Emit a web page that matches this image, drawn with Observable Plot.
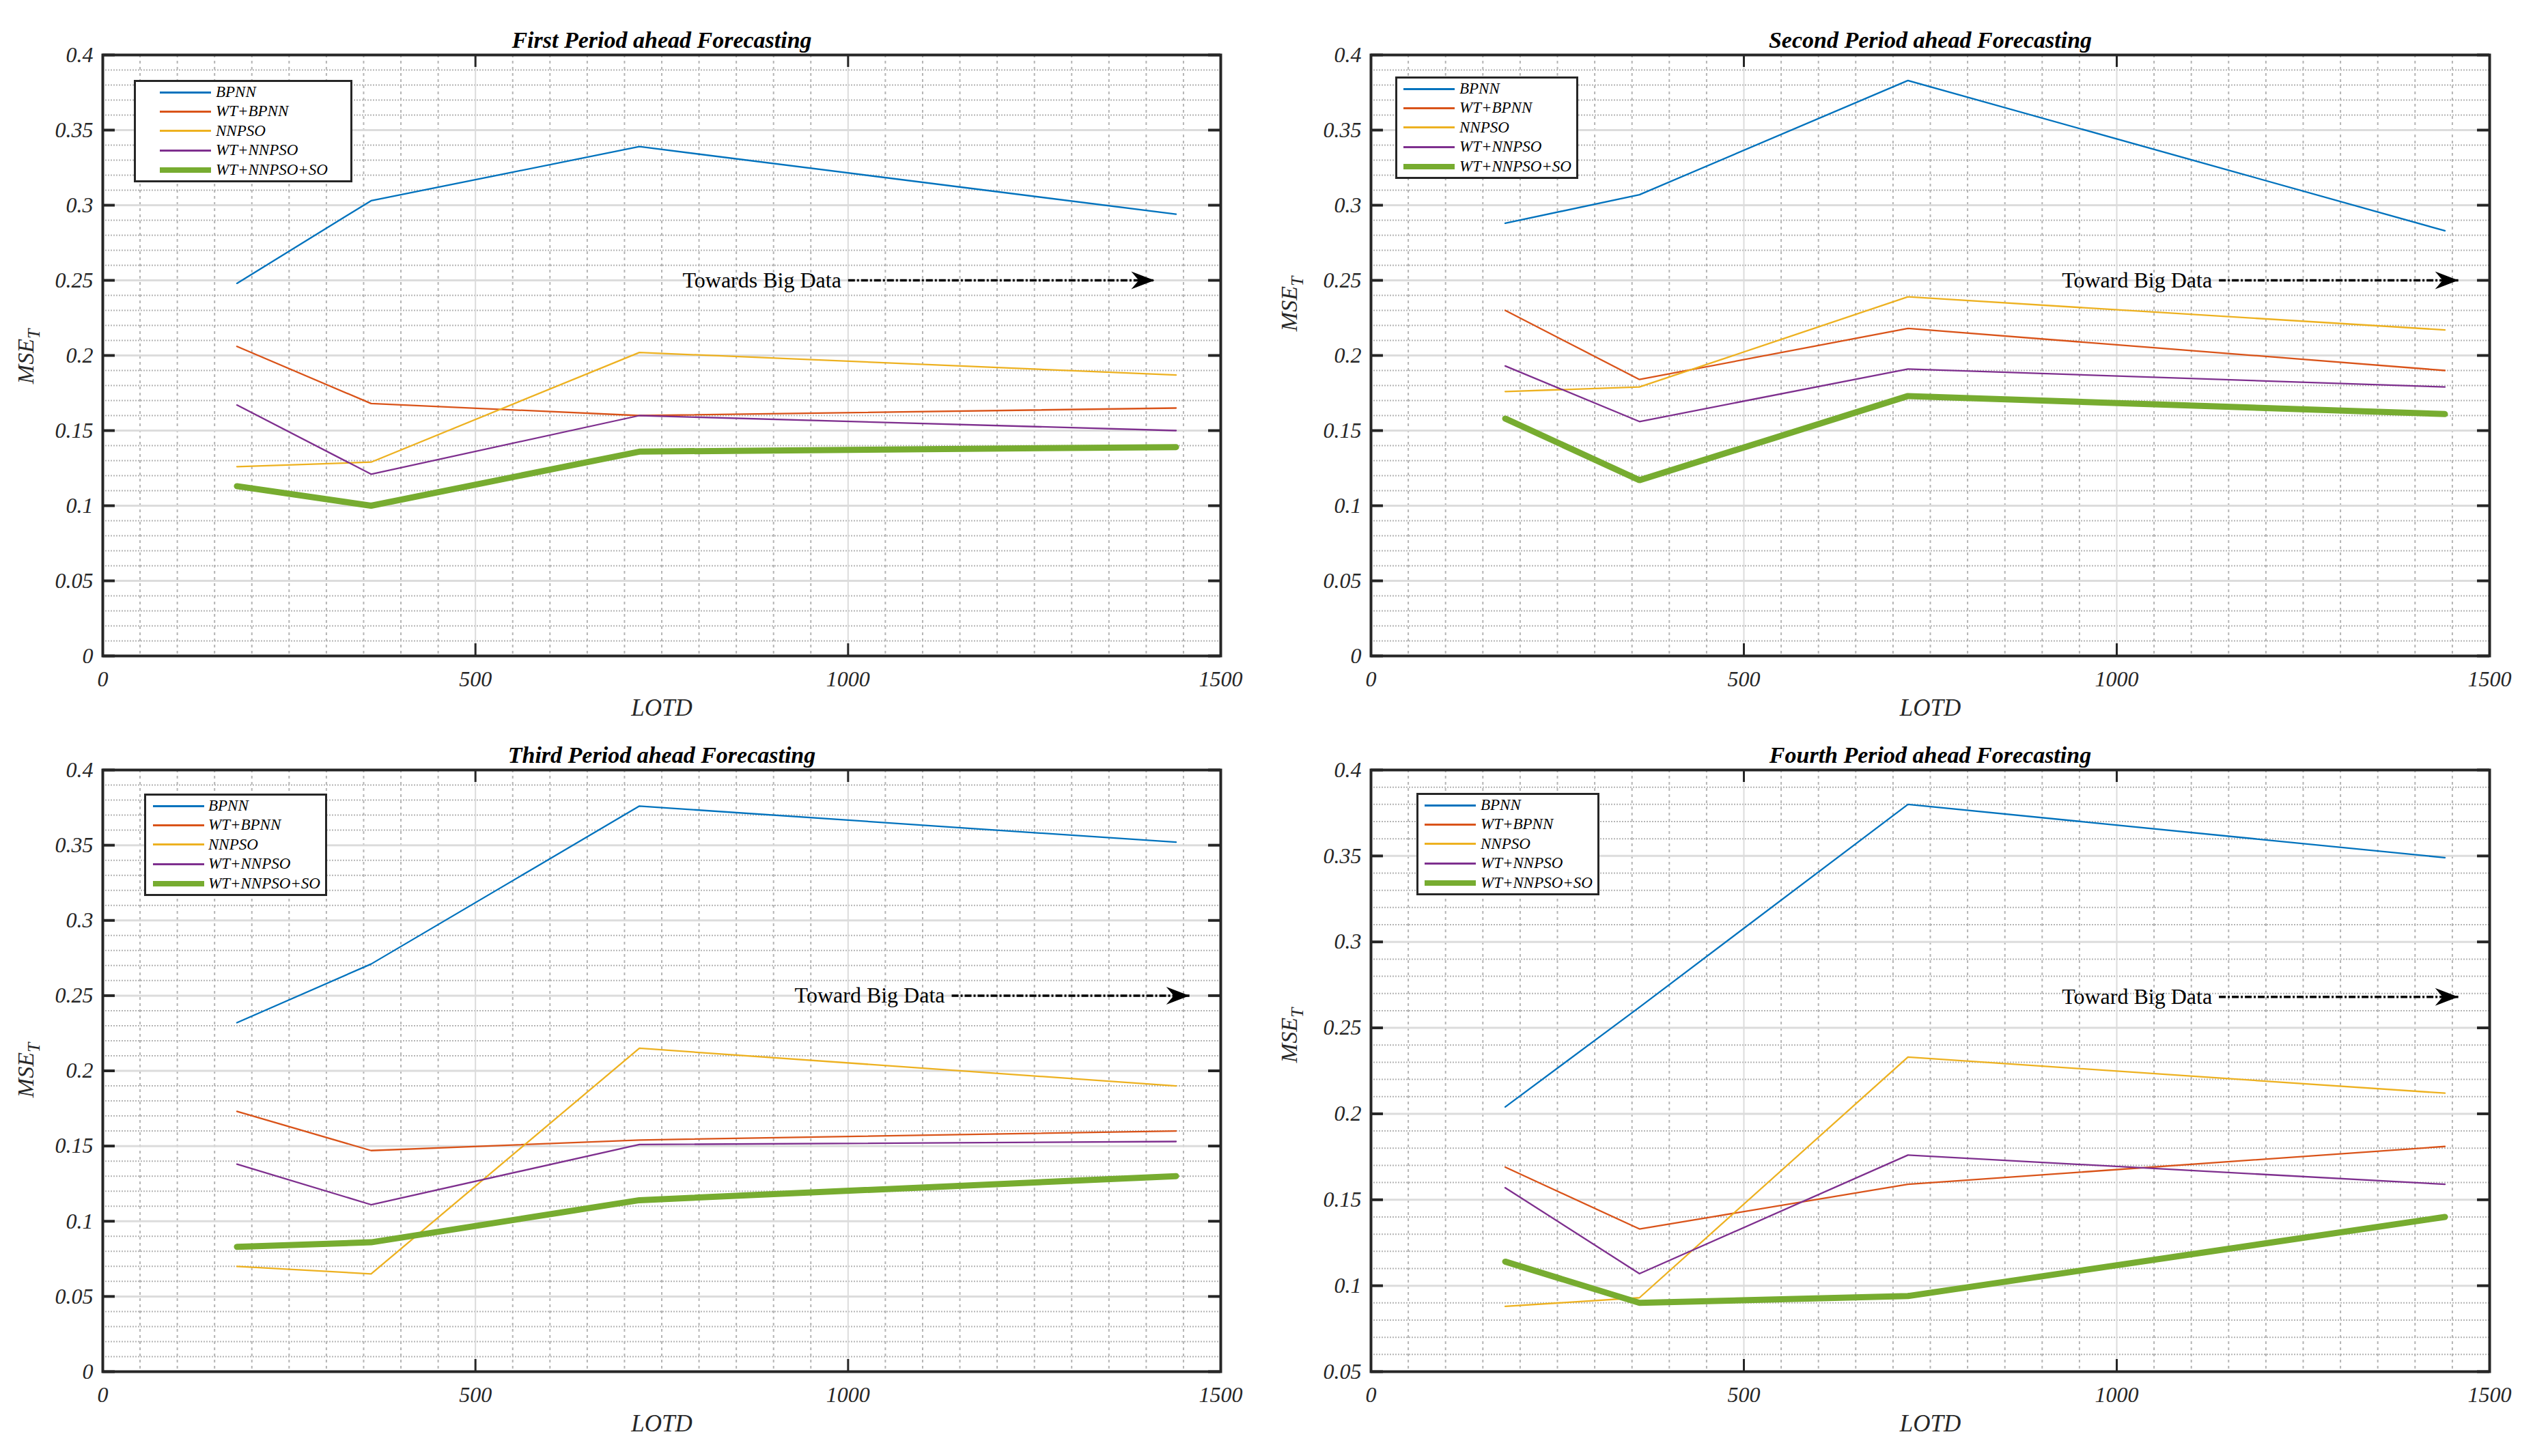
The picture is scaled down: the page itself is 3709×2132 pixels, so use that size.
<!DOCTYPE html>
<html>
<head>
<meta charset="utf-8">
<script src="https://cdn.jsdelivr.net/npm/d3@7"></script>
<script src="https://cdn.jsdelivr.net/npm/@observablehq/plot@0.6"></script>
<style>
html, body { margin: 0; padding: 0; background: #fff; }
#root { position: relative; width: 3709px; height: 2132px; overflow: hidden; font-family: "Liberation Serif", "Times New Roman", serif; }
.panel { position: absolute; }
.legend { position: absolute; background: #fff; border: 3px solid #262626; box-sizing: border-box; }
.legend .row { position: absolute; height: 28px; display: flex; align-items: center; }
.legend .sw { width: 75px; }
.legend .lab { position: absolute; font-style: italic; font-size: 23px; color: #000; white-space: nowrap; line-height: 28px; }
.ylab { position: absolute; font-style: italic; font-size: 34px; color: #262626; white-space: nowrap; transform: translate(-50%, -50%) rotate(-90deg); }
.ylab sub { font-size: 0.75em; vertical-align: -0.35em; }
</style>
</head>
<body>
<div id="root"></div>
<script>
// ---------- data ----------
const lotd = [180, 360, 720, 1440];
const seriesNames = ["BPNN", "WT+BPNN", "NNPSO", "WT+NNPSO", "WT+NNPSO+SO"];
const seriesColors = ["#0072BD", "#D95319", "#EDB120", "#7E2F8E", "#77AC30"];
const panelTitles = ["First Period ahead Forecasting", "Second Period ahead Forecasting", "Third Period ahead Forecasting", "Fourth Period ahead Forecasting"];

const mseFirst = [
  [0.248, 0.303, 0.339, 0.294],
  [0.206, 0.168, 0.160, 0.165],
  [0.126, 0.129, 0.202, 0.187],
  [0.167, 0.121, 0.160, 0.150],
  [0.113, 0.100, 0.136, 0.139]
];
const mseSecond = [
  [0.288, 0.307, 0.383, 0.283],
  [0.230, 0.184, 0.218, 0.190],
  [0.176, 0.179, 0.239, 0.217],
  [0.193, 0.156, 0.191, 0.179],
  [0.158, 0.117, 0.173, 0.161]
];
const mseThird = [
  [0.232, 0.271, 0.376, 0.352],
  [0.173, 0.147, 0.154, 0.160],
  [0.070, 0.065, 0.215, 0.190],
  [0.138, 0.111, 0.151, 0.153],
  [0.083, 0.086, 0.114, 0.130]
];
const mseFourth = [
  [0.204, 0.262, 0.380, 0.349],
  [0.169, 0.133, 0.159, 0.181],
  [0.088, 0.093, 0.233, 0.212],
  [0.157, 0.107, 0.176, 0.159],
  [0.114, 0.090, 0.094, 0.140]
];
const panelValues = [mseFirst, mseSecond, mseThird, mseFourth];

const yMins = [0, 0, 0, 0.05];
const xTickValues = [0, 500, 1000, 1500];

const arrowTexts = ["Towards Big Data", "Toward Big Data", "Toward Big Data", "Toward Big Data"];
const arrowY = [0.25, 0.25, 0.25, 0.268];
const arrowStartX = [1000, 1137, 1139, 1137];
const arrowEndX = [1411, 1458, 1458, 1458];

// ---------- layout (positions / styles) ----------
const W = 1854, H = 1066;
const layout = [
  {left: 0,    top: 0,    ml: 150, mr: 67, mt: 80, mb: 106,
   legend: {left: 196, top: 117, width: 320, height: 150, sw: 35, tx: 117},
   ylab: {x: 42, y: 522}},
  {left: 1854, top: 0,    ml: 153, mr: 63, mt: 80, mb: 106,
   legend: {left: 2043, top: 112, width: 268, height: 150, sw: 9, tx: 91},
   ylab: {x: 1892, y: 445}},
  {left: 0,    top: 1047, ml: 150, mr: 67, mt: 80, mb: 105,
   legend: {left: 211, top: 1162, width: 268, height: 150, sw: 10, tx: 91},
   ylab: {x: 42, y: 1567}},
  {left: 1854, top: 1047, ml: 153, mr: 63, mt: 80, mb: 105,
   legend: {left: 2074, top: 1161, width: 268, height: 150, sw: 9, tx: 91},
   ylab: {x: 1892, y: 1516}}
];

const FONT = '"Liberation Serif", "Times New Roman", serif';
const INK = "#262626";

// custom filled arrow head (tip at the anchor point)
const arrowHead = {
  draw(ctx) {
    ctx.moveTo(0, 0);
    ctx.lineTo(-34, -13);
    ctx.lineTo(-23, 0);
    ctx.lineTo(-34, 13);
    ctx.closePath();
  }
};

function makePanel(i) {
  const L = layout[i];
  const rows = [];
  seriesNames.forEach((name, s) => {
    panelValues[i][s].forEach((v, k) => rows.push({x: lotd[k], y: v, name}));
  });
  const yMin = yMins[i];
  const yMajor = d3.range(Math.round(yMin * 20), 9).map(k => k / 20);
  const yMinor = d3.range(Math.round(yMin * 100), 41).map(k => k / 100).filter(v => Math.round(v * 100) % 5 !== 0);
  const xMinor = d3.range(0, 1501, 50).filter(v => v % 500 !== 0);
  const innerW = W - L.ml - L.mr;
  const innerH = H - L.mt - L.mb;
  const arrow = [{x1: arrowStartX[i], x2: arrowEndX[i], y: arrowY[i], t: arrowTexts[i]}];

  return Plot.plot({
    width: W, height: H,
    marginLeft: L.ml, marginRight: L.mr, marginTop: L.mt, marginBottom: L.mb,
    style: {fontFamily: FONT, background: "transparent", color: INK, overflow: "visible"},
    x: {domain: [0, 1500], axis: null},
    y: {domain: [yMin, 0.4], axis: null},
    color: {domain: seriesNames, range: seriesColors},
    marks: [
      Plot.gridY(yMinor, {stroke: "#b4b4b4", strokeOpacity: 1, strokeWidth: 2, strokeDasharray: "2,2"}),
      Plot.gridX(xMinor, {stroke: "#b4b4b4", strokeOpacity: 1, strokeWidth: 2, strokeDasharray: "4,5"}),
      Plot.gridY(yMajor, {stroke: "#dcdcdc", strokeOpacity: 1, strokeWidth: 3}),
      Plot.gridX(xTickValues, {stroke: "#dcdcdc", strokeOpacity: 1, strokeWidth: 2}),
      Plot.line(rows.filter(d => d.name !== "WT+NNPSO+SO"), {x: "x", y: "y", z: "name", stroke: "name", strokeWidth: 2.3}),
      Plot.line(rows.filter(d => d.name === "WT+NNPSO+SO"), {x: "x", y: "y", z: "name", stroke: "name", strokeWidth: 9, strokeLinejoin: "miter"}),
      Plot.link(arrow, {x1: "x1", x2: "x2", y1: "y", y2: "y", stroke: "#000", strokeWidth: 3.5, strokeDasharray: "10,3,3,3"}),
      Plot.dot(arrow, {x: "x2", y: "y", symbol: arrowHead, fill: "#000", stroke: null}),
      Plot.text(arrow, {x: "x1", y: "y", text: "t", textAnchor: "end", dx: -10, lineAnchor: "middle", fontSize: 32, fill: "#000"}),
      Plot.frame({stroke: INK, strokeWidth: 4}),
      Plot.tickY(yMajor, {y: d => d, insetRight: innerW - 18, stroke: INK, strokeWidth: 4}),
      Plot.tickY(yMajor, {y: d => d, insetLeft: innerW - 18, stroke: INK, strokeWidth: 4}),
      Plot.tickX([500, 1000], {x: d => d, insetTop: innerH - 18, stroke: INK, strokeWidth: 3}),
      Plot.tickX([500, 1000], {x: d => d, insetBottom: innerH - 18, stroke: INK, strokeWidth: 3}),
      Plot.axisY(yMajor, {tickSize: 0, tickPadding: 14, fontSize: 32, fontStyle: "italic", fill: INK, label: null, tickFormat: d => String(d)}),
      Plot.axisX(xTickValues, {tickSize: 0, tickPadding: 22, fontSize: 32, fontStyle: "italic", fill: INK, label: null, tickFormat: d => String(d)}),
      Plot.text([panelTitles[i]], {text: d => d, frameAnchor: "top", dy: -11, lineAnchor: "bottom", fontSize: 34, fontWeight: "bold", fontStyle: "italic", fill: "#000"}),
      Plot.text(["LOTD"], {text: d => d, frameAnchor: "bottom", dy: 76, lineAnchor: "middle", fontSize: 35, fontStyle: "italic", fill: INK})
    ]
  });
}

const root = document.getElementById("root");
layout.forEach((L, i) => {
  const div = document.createElement("div");
  div.className = "panel";
  div.style.left = L.left + "px";
  div.style.top = L.top + "px";
  div.appendChild(makePanel(i));
  root.appendChild(div);

  // legend
  const lg = document.createElement("div");
  lg.className = "legend";
  lg.style.left = L.legend.left + "px";
  lg.style.top = L.legend.top + "px";
  lg.style.width = L.legend.width + "px";
  lg.style.height = L.legend.height + "px";
  seriesNames.forEach((name, s) => {
    const cy = 15 + s * 28.4;
    const sw = document.createElement("div");
    sw.style.position = "absolute";
    sw.style.left = L.legend.sw + "px";
    sw.style.width = "75px";
    const th = name === "WT+NNPSO+SO" ? 8 : 3;
    sw.style.height = th + "px";
    sw.style.top = (cy - th / 2) + "px";
    sw.style.background = seriesColors[s];
    lg.appendChild(sw);
    const lab = document.createElement("div");
    lab.className = "lab";
    lab.style.left = L.legend.tx + "px";
    lab.style.top = (cy - 14) + "px";
    lab.textContent = name;
    lg.appendChild(lab);
  });
  root.appendChild(lg);

  // y label
  const yl = document.createElement("div");
  yl.className = "ylab";
  yl.style.left = L.ylab.x + "px";
  yl.style.top = L.ylab.y + "px";
  yl.innerHTML = "MSE<sub>T</sub>";
  root.appendChild(yl);
});
</script>
</body>
</html>
